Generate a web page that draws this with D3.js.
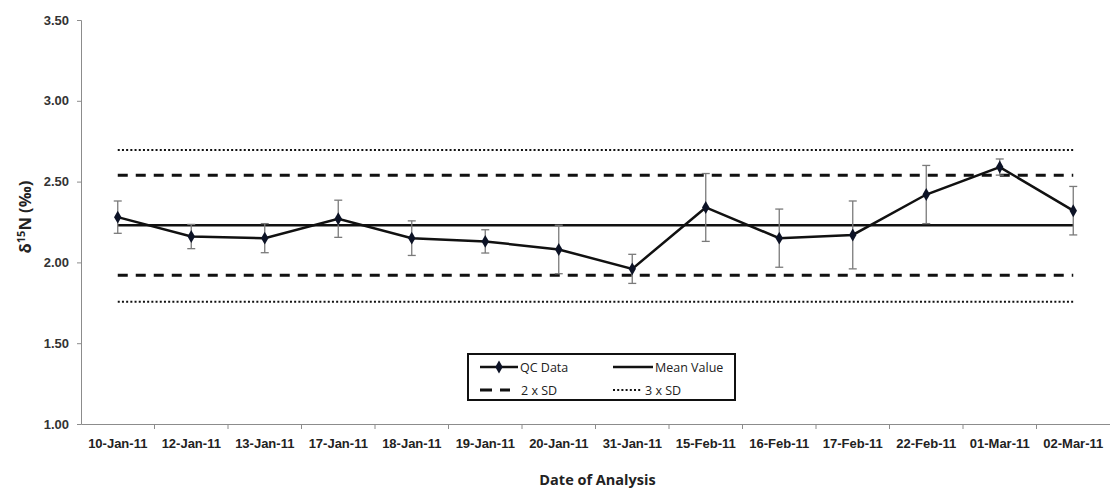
<!DOCTYPE html>
<html>
<head>
<meta charset="utf-8">
<script src="https://cdn.jsdelivr.net/npm/d3@7"></script>
<style>
  body { margin: 0; background: #fff; }
  svg { display: block; font-family: "Open Sans", "Noto Sans", sans-serif; }
</style>
</head>
<body>
<div id="chart"></div>
<script>
// values
const dates = ['10-Jan-11', '12-Jan-11', '13-Jan-11', '17-Jan-11', '18-Jan-11', '19-Jan-11', '20-Jan-11',
  '31-Jan-11', '15-Feb-11', '16-Feb-11', '17-Feb-11', '22-Feb-11', '01-Mar-11', '02-Mar-11'];
const qcValues = [2.28, 2.16, 2.15, 2.27, 2.15, 2.13, 2.08, 1.96, 2.34, 2.15, 2.17, 2.42, 2.59, 2.32];
const qcErrors = [0.10, 0.075, 0.09, 0.115, 0.107, 0.072, 0.15, 0.09, 0.21, 0.18, 0.21, 0.18, 0.05, 0.15];
const meanValue = 2.23;
const sd2Limits = [2.54, 1.92];
const sd3Limits = [2.695, 1.757];
const yTicks = [1.00, 1.50, 2.00, 2.50, 3.00, 3.50];

const W = 1110, H = 488;
const margin = { top: 20, right: 0, bottom: 64, left: 81 };
const width = W - margin.left - margin.right;
const height = H - margin.top - margin.bottom;

const svg = d3.select('#chart').append('svg')
  .attr('width', W).attr('height', H);
svg.append('rect').attr('width', W).attr('height', H).attr('fill', '#fff');

const g = svg.append('g').attr('transform', `translate(${margin.left},${margin.top})`);

const x = d3.scaleBand().domain(dates).range([0, width]).padding(0);
const y = d3.scaleLinear().domain([1, 3.5]).range([height, 0]);
const cx = d => x(d) + x.bandwidth() / 2;

// y axis
const yAxis = g.append('g').call(d3.axisLeft(y).tickValues(yTicks).tickFormat(d3.format('.2f')).tickSize(4).tickPadding(8));
yAxis.select('.domain').attr('stroke', '#8c8c8c');
yAxis.selectAll('line').attr('stroke', '#8c8c8c');
yAxis.selectAll('text').attr('fill', '#333').style('font-size', '13px').style('font-weight', 600);

// x axis with ticks between categories
const xAxis = g.append('g').attr('transform', `translate(0,${height})`)
  .call(d3.axisBottom(x).tickSize(0).tickPadding(15));
xAxis.select('.domain').attr('stroke', '#8c8c8c');
xAxis.selectAll('text').attr('fill', '#222').style('font-size', '13px').style('font-weight', 600);
xAxis.selectAll('.sep')
  .data(dates.slice(1))
  .enter().append('line')
  .attr('x1', d => x(d)).attr('x2', d => x(d))
  .attr('y1', 0).attr('y2', 5)
  .attr('stroke', '#8c8c8c');

const x0 = cx(dates[0]), x1 = cx(dates[dates.length - 1]);

// control lines
sd3Limits.forEach(v => {
  g.append('line').attr('x1', x0).attr('x2', x1).attr('y1', y(v)).attr('y2', y(v))
    .attr('stroke', '#111').attr('stroke-width', 2).attr('stroke-dasharray', '2,2.2');
});
sd2Limits.forEach(v => {
  g.append('line').attr('x1', x0).attr('x2', x1).attr('y1', y(v)).attr('y2', y(v))
    .attr('stroke', '#111').attr('stroke-width', 3).attr('stroke-dasharray', '10,8');
});
g.append('line').attr('x1', x0).attr('x2', x1).attr('y1', y(meanValue)).attr('y2', y(meanValue))
  .attr('stroke', '#111').attr('stroke-width', 2.5);

// error bars
const pts = dates.map((d, i) => ({ d, v: qcValues[i], e: qcErrors[i] }));
const eb = g.append('g').attr('stroke', '#7a7a7a').attr('stroke-width', 1.3);
pts.forEach(p => {
  eb.append('line').attr('x1', cx(p.d)).attr('x2', cx(p.d)).attr('y1', y(p.v + p.e)).attr('y2', y(p.v - p.e));
  [p.v + p.e, p.v - p.e].forEach(v => {
    eb.append('line').attr('x1', cx(p.d) - 4).attr('x2', cx(p.d) + 4).attr('y1', y(v)).attr('y2', y(v));
  });
});

// QC data line
g.append('path').datum(pts)
  .attr('d', d3.line().x(p => cx(p.d)).y(p => y(p.v)))
  .attr('fill', 'none').attr('stroke', '#111').attr('stroke-width', 2.5);

const diamond = d3.symbol().type(d3.symbolDiamond).size(48);
g.selectAll('.pt').data(pts).enter().append('path')
  .attr('transform', p => `translate(${cx(p.d)},${y(p.v)})`)
  .attr('d', diamond).attr('fill', '#0d1326');

// axis titles
const yTitle = svg.append('text')
  .attr('transform', `translate(31,217) rotate(-90)`)
  .attr('fill', '#222')
  .style('font-size', '16.5px').style('font-weight', 700)
  .html('δ<tspan dy="-6" font-size="11">15</tspan><tspan dy="6">N (‰)</tspan>');
yTitle.attr('x', -yTitle.node().getComputedTextLength() / 2);

svg.append('text')
  .attr('x', margin.left + width / 2 + 2).attr('y', 485)
  .attr('text-anchor', 'middle').attr('fill', '#222')
  .style('font-size', '14.5px').style('font-weight', 700)
  .text('Date of Analysis');

// legend
const lg = svg.append('g').attr('transform', 'translate(468,354)');
lg.append('rect').attr('width', 267).attr('height', 46)
  .attr('fill', '#fff').attr('stroke', '#111').attr('stroke-width', 2);
const items = [
  { label: 'QC Data', col: 0, row: 0, dash: null, w: 2.5, marker: true, sw: 38 },
  { label: 'Mean Value', col: 1, row: 0, dash: null, w: 2.5, sw: 40 },
  { label: '2 x SD', col: 0, row: 1, dash: '12,8', w: 3, sw: 30 },
  { label: '3 x SD', col: 1, row: 1, dash: '2,2.2', w: 2, sw: 28 }
];
items.forEach(it => {
  const ix = it.col === 0 ? 12 : 145;
  const iy = it.row === 0 ? 13 : 36;
  lg.append('line').attr('x1', ix).attr('x2', ix + it.sw).attr('y1', iy).attr('y2', iy)
    .attr('stroke', '#111').attr('stroke-width', it.w)
    .attr('stroke-dasharray', it.dash);
  if (it.marker) {
    lg.append('path').attr('transform', `translate(${ix + it.sw / 2},${iy})`)
      .attr('d', diamond).attr('fill', '#0d1326');
  }
  const tx = it.row === 0 ? ix + it.sw + 2 : (it.col === 0 ? 53 : 177);
  lg.append('text').attr('x', tx).attr('y', iy + 4.5)
    .attr('fill', '#222').style('font-size', '12.5px').text(it.label);
});
</script>
</body>
</html>
